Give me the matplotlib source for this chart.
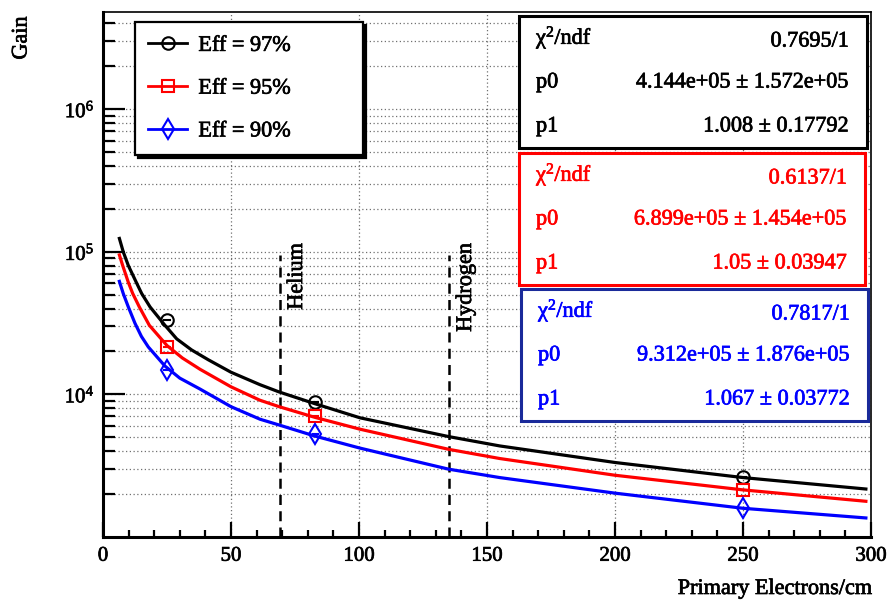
import matplotlib
matplotlib.use('Agg')
import matplotlib.pyplot as plt
import matplotlib.patheffects as pe
from matplotlib.patches import Rectangle
from matplotlib.lines import Line2D
from matplotlib.text import Text
from matplotlib.ticker import (FixedLocator, LogFormatterMathtext,
                               MultipleLocator, NullFormatter)

plt.rcParams['font.family'] = ['Liberation Serif', 'DejaVu Serif']
plt.rcParams['mathtext.fontset'] = 'custom'
plt.rcParams['mathtext.rm'] = 'Liberation Serif'
plt.rcParams['mathtext.it'] = 'Liberation Serif:italic'

# fitted gain curves vs primary electrons/cm, one per efficiency
x97 = [6.4, 7.9, 9.9, 13.2, 15.1, 18.4, 24.2, 28.8, 34.6, 41.1, 50, 61.3, 68.8,
       82.8, 100.4, 135, 155, 200, 250, 298]
g97 = [1.24e5, 1.0e5, 8.0e4, 6.0e4, 5.1e4, 4.1e4, 3.05e4, 2.45e4, 2.05e4, 1.75e4,
       1.43e4, 1.17e4, 1.04e4, 8.6e3, 6.85e3, 5.06e3, 4.35e3, 3.33e3, 2.61e3, 2.17e3]
x95 = [6.4, 7.7, 9.9, 11.6, 14.2, 18.1, 25, 31, 37.9, 50, 61.3, 68.8, 82.8,
       100.4, 135, 155, 200, 250, 298]
g95 = [9.5e4, 8.0e4, 6.1e4, 5.1e4, 4.1e4, 3.05e4, 2.2e4, 1.8e4, 1.5e4, 1.13e4,
       9.1e3, 8.2e3, 6.9e3, 5.7e3, 4.12e3, 3.55e3, 2.71e3, 2.14e3, 1.78e3]
x90 = [6.4, 7.9, 9.9, 12.5, 15, 17.7, 24.2, 30, 37.9, 50, 61.3, 68.8, 82.8, 100.4,
       135, 155, 200, 250, 298]
g90 = [6.2e4, 5.1e4, 4.1e4, 3.15e4, 2.55e4, 2.15e4, 1.58e4, 1.3e4, 1.09e4, 8.2e3,
       6.7e3, 6.1e3, 5.1e3, 4.2e3, 2.99e3, 2.61e3, 2.03e3, 1.59e3, 1.36e3]

# measured points (gas mixtures)
pts_x = [25, 83, 250]
pts_xerr = [1.5, 1.5, 1.5]
pts97 = [3.3e4, 8.8e3, 2.62e3]
pts95 = [2.15e4, 7.05e3, 2.13e3]
pts90 = [1.48e4, 5.3e3, 1.6e3]

labels = ['Eff = 97%', 'Eff = 95%', 'Eff = 90%']
colors = ['black', 'red', 'blue']
markers = ['o', 's', 'd']

# reference gases
gas_names = ['Helium', 'Hydrogen']
gas_x = [69, 135]

# fit results
fit_names = ['χ$^{2}$/ndf', 'p0', 'p1']
fit97 = ['0.7695/1', '4.144e+05 ± 1.572e+05', '1.008 ± 0.17792']
fit95 = ['0.6137/1', '6.899e+05 ± 1.454e+05', '1.05 ± 0.03947']
fit90 = ['0.7817/1', '9.312e+05 ± 1.876e+05', '1.067 ± 0.03772']

W, H = 890, 600
fig = plt.figure(figsize=(W / 100, H / 100), dpi=100)
ax = fig.add_axes([103 / W, 63 / H, 768 / W, 525 / H])
ax.set_yscale('log')
ax.set_xlim(0, 300)
ax.set_ylim(1e3, 4.8e6)

ax.xaxis.set_major_locator(MultipleLocator(50))
ax.xaxis.set_minor_locator(MultipleLocator(10))
ax.yaxis.set_major_locator(FixedLocator([1e4, 1e5, 1e6]))
ax.yaxis.set_minor_locator(FixedLocator(
    [m * 10 ** k for k in range(3, 7) for m in range(2, 10) if m * 10 ** k < 4.8e6]))
ax.yaxis.set_major_formatter(LogFormatterMathtext())
ax.yaxis.set_minor_formatter(NullFormatter())

ax.tick_params(which='both', direction='in', top=False, right=False, width=1.6)
ax.tick_params(axis='y', which='major', length=16, labelsize=15, pad=6)
ax.tick_params(axis='y', which='minor', length=8.5)
ax.tick_params(axis='x', which='major', length=11, labelsize=15, pad=7)
ax.tick_params(axis='x', which='minor', length=5)
for s in ('left', 'bottom'):
    ax.spines[s].set_linewidth(2.2)
for s in ('top', 'right'):
    ax.spines[s].set_linewidth(1.2)

grid_kw = dict(ls=(0, (1, 2)), color='#707070', lw=0.9)
ax.grid(True, which='both', axis='y', **grid_kw)
ax.grid(True, which='major', axis='x', **grid_kw)
ax.set_axisbelow(True)

for xc, gc, gp, c, m in zip((x97, x95, x90), (g97, g95, g90),
                            (pts97, pts95, pts90), colors, markers):
    ax.plot(xc, gc, color=c, lw=2.3, zorder=3, solid_joinstyle='round')
    ax.errorbar(pts_x, gp, xerr=pts_xerr, fmt=m, mfc='none', mec=c, ecolor=c,
                ms=10 if m == 'd' else 9, mew=1.5, elinewidth=1.5, capsize=0, zorder=4)

ax.vlines(gas_x, 1e3, 9.5e4, colors='black', linestyles=(0, (4, 2.5)), lw=1.8, zorder=2)
for name, gx in zip(gas_names, gas_x):
    ax.text(gx + 7, 1.15e5, name, rotation=90, ha='center', va='top', fontsize=16)

handles = [Line2D([0], [0], color=c, lw=2, marker=m, mfc='none', mec=c,
                  ms=10 if m == 'd' else 9, mew=1.5) for c, m in zip(colors, markers)]
leg = ax.legend(handles, labels, loc='upper left', mode='expand',
                bbox_to_anchor=(0.0417, 0.737, 0.2968, 0.244), fontsize=16,
                fancybox=False, edgecolor='black', framealpha=1,
                shadow={'color': 'black', 'alpha': 1}, borderpad=0.6,
                labelspacing=1.0, handlelength=1.75, handletextpad=0.5,
                borderaxespad=0)
leg.get_frame().set_linewidth(1.6)

# stat boxes, in figure pixels from the top-left corner
boxes = [(519, 16, 867, 148), (519, 153, 865, 285), (521, 289, 868, 421)]
edge_colors = ['black', 'red', '#1a2a9a']
for (l, t, r, b), ec, tc, vals in zip(boxes, edge_colors, colors, (fit97, fit95, fit90)):
    fig.add_artist(Rectangle((l / W, 1 - b / H), (r - l) / W, (b - t) / H,
                             transform=fig.transFigure, fc='white', ec=ec, lw=2.2))
    for i, (name, val) in enumerate(zip(fit_names, vals)):
        dy = [22, 67, 111][i]
        fig.text((l + 17) / W, 1 - (t + dy) / H, name, color=tc, fontsize=16,
                 ha='left', va='center')
        fig.text((r - 18) / W, 1 - (t + dy + (4 if i == 0 else 0)) / H, val, color=tc,
                 fontsize=16, ha='right', va='center')

fig.text(22 / W, 1 - 38 / H, 'Gain', rotation=90, ha='center', va='center', fontsize=16)
fig.text(872 / W, 6 / H, 'Primary Electrons/cm', ha='right', va='baseline', fontsize=16)

# slightly heavier strokes on all the lettering
fig.canvas.draw()
for t in fig.findobj(Text):
    t.set_path_effects([pe.withStroke(linewidth=0.5, foreground=t.get_color())])

fig.savefig('out.png', dpi=100)
